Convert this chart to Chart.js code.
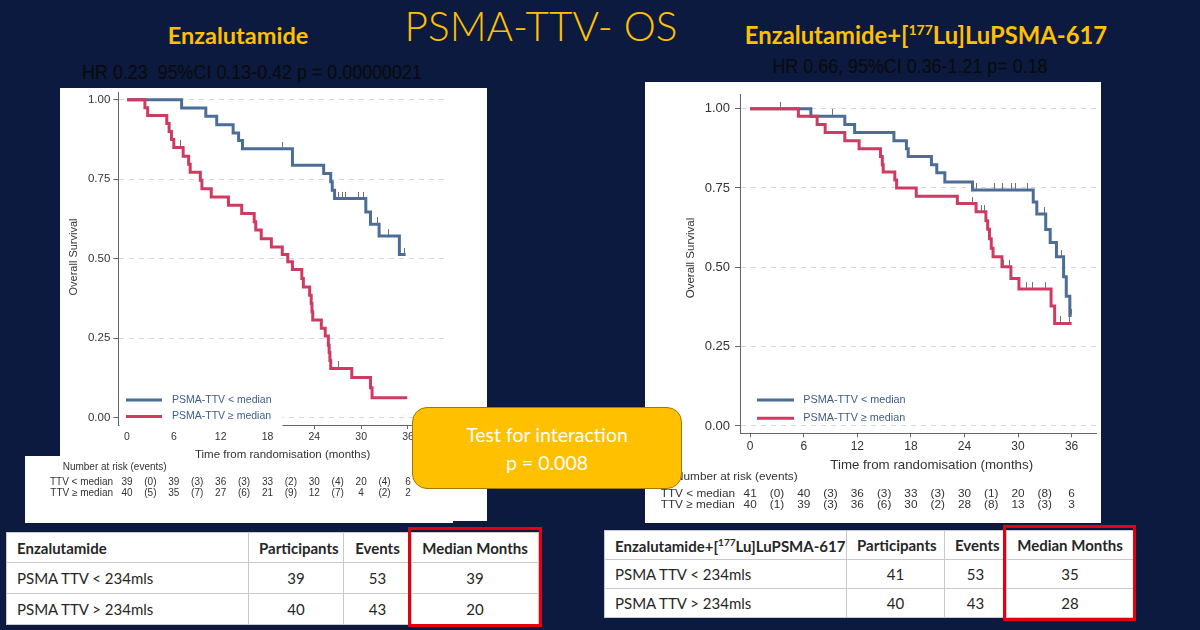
<!DOCTYPE html>
<html><head><meta charset="utf-8">
<script src="https://cdn.jsdelivr.net/npm/chart.js@4"></script>
<style>
body{margin:0;width:1200px;height:630px;background:#0b1a3e;position:relative;overflow:hidden;font-family:Lato,sans-serif}
.panel{position:absolute;background:#fff}
.ttl{position:absolute;color:#ffc000;white-space:nowrap;transform:translate(-50%,-50%)}
.hr{position:absolute;color:#0a0a0a;font-family:"Liberation Sans",Arial,sans-serif;font-size:20px;white-space:pre;transform:translate(-50%,-50%) scaleX(0.895)}
canvas{position:absolute}
table{position:absolute;border-collapse:collapse;background:#fff;font-family:Lato,sans-serif;font-size:15px;color:#262626;table-layout:fixed}
td{border:1px solid #c9c9c9;padding:0 10px;white-space:nowrap;overflow:hidden}
td.n{text-align:center}
tr.h td{font-weight:bold}
.redbox{position:absolute;border:3px solid #e3000f;box-sizing:border-box}
#inter{position:absolute;left:412px;top:407px;width:270px;height:82px;box-sizing:border-box;background:#ffc000;border:1px solid #a07800;border-radius:15px;color:#fff;font-family:Lato,sans-serif;font-size:19.5px;text-align:center;line-height:28px;padding-top:13px}
</style></head><body>

<div class="panel" style="left:60px;top:88px;width:427px;height:433px"></div>
<div class="panel" style="left:25px;top:456px;width:428px;height:67px"></div>
<div class="panel" style="left:645px;top:82px;width:456px;height:441px"></div>

<div class="ttl" style="left:541px;top:25px;font-size:40.5px;font-weight:300">PSMA-TTV- OS</div>
<div class="ttl" style="left:238px;top:35px;font-size:23.5px;font-weight:bold">Enzalutamide</div>
<div class="ttl" style="left:926px;top:35px;font-size:23.8px;font-weight:bold">Enzalutamide+[<sup style="font-size:14px">177</sup>Lu]LuPSMA-617</div>
<div class="hr" style="left:252px;top:72px">HR 0.23  95%CI 0.13-0.42 p = 0.00000021</div>
<div class="hr" style="left:910px;top:66px">HR 0.66, 95%CI 0.36-1.21 p= 0.18</div>

<canvas id="c1" width="490" height="445" style="left:0;top:80px"></canvas>
<canvas id="c2" width="456" height="441" style="left:645px;top:82px"></canvas>

<div id="inter">Test for interaction<br>p = 0.008</div>

<div id="tables"></div>

<script>
// ---------- axis ticks ----------
const monthTicks = [0, 6, 12, 18, 24, 30, 36];
const survTicks = [0, 0.25, 0.5, 0.75, 1];
const riskTimes = [0, 6, 12, 18, 24, 30, 36];
const eventTimes = [3, 9, 15, 21, 27, 33];
const seriesLabels = ['PSMA-TTV < median', 'PSMA-TTV \u2265 median'];
const riskRowLabels = ['TTV < median', 'TTV \u2265 median'];

// ---------- Enzalutamide arm ----------
const enzLowT = [0, 7.0, 10.1, 11.5, 13.6, 14.3, 14.8, 21.2, 25.2, 26.1, 26.3, 26.6, 30.6, 31.2, 32.3, 34.9, 35.7];
const enzLowS = [1, 0.974, 0.948, 0.921, 0.895, 0.872, 0.846, 0.794, 0.768, 0.742, 0.715, 0.689, 0.647, 0.608, 0.571, 0.513, 0.513];
const enzLowCensor = [19.9, 27.1, 27.6, 28.05, 29.6, 30.3, 32.1, 33.5, 35.6];
const enzHighT = [0, 2.3, 2.65, 5.1, 5.4, 5.7, 6.0, 7.2, 7.9, 8.1, 9.4, 9.6, 10.8, 13.0, 14.7, 16.3, 16.5, 17.2, 18.5, 19.9, 20.6, 21.2, 22.4, 22.6, 23.4, 23.6, 23.7, 23.8, 24.9, 25.4, 25.8, 25.9, 26.0, 26.1, 28.8, 31.2, 31.4, 35.9];
const enzHighS = [1, 0.975, 0.95, 0.925, 0.9, 0.875, 0.85, 0.822, 0.797, 0.772, 0.747, 0.72, 0.694, 0.668, 0.642, 0.616, 0.59, 0.563, 0.537, 0.513, 0.49, 0.466, 0.438, 0.411, 0.385, 0.359, 0.333, 0.307, 0.281, 0.257, 0.228, 0.205, 0.18, 0.155, 0.126, 0.094, 0.063, 0.063];
const enzHighCensor = [6.8, 27.1];
const enzLowRisk = [39, 39, 36, 33, 30, 20, 6];
const enzLowEvents = [0, 3, 3, 2, 4, 4];
const enzHighRisk = [40, 35, 27, 21, 12, 4, 2];
const enzHighEvents = [5, 7, 6, 9, 7, 2];

// ---------- Enzalutamide + Lu-PSMA arm ----------
const luLowT = [0, 6.8, 10.6, 11.7, 16.1, 17.5, 17.7, 20.3, 20.9, 21.8, 24.9, 31.7, 32.1, 33.1, 33.6, 34.3, 35.1, 35.4, 35.8, 36.0];
const luLowS = [1, 0.976, 0.95, 0.925, 0.899, 0.874, 0.849, 0.823, 0.798, 0.769, 0.744, 0.706, 0.668, 0.619, 0.578, 0.533, 0.47, 0.409, 0.348, 0.348];
const luLowCensor = [9.2, 25.4, 27.4, 28.3, 29.3, 29.7, 31.1, 33.0, 34.9, 35.95];
const luHighT = [0, 5.4, 7.5, 8.4, 10.6, 12.2, 14.6, 14.8, 14.9, 16.2, 16.4, 18.6, 23.2, 25.3, 26.4, 26.6, 26.8, 27.0, 27.2, 28.2, 29.2, 30.1, 33.7, 34.1, 36.0];
const luHighS = [1, 0.976, 0.95, 0.925, 0.899, 0.874, 0.849, 0.823, 0.8, 0.775, 0.75, 0.724, 0.701, 0.675, 0.647, 0.62, 0.59, 0.56, 0.533, 0.502, 0.465, 0.432, 0.378, 0.323, 0.323];
const luHighCensor = [3.4, 24.9, 25.9, 26.2, 28.4, 29.0, 31.0, 31.6, 33.1, 34.8, 35.8];
const luLowRisk = [41, 40, 36, 33, 30, 20, 6];
const luLowEvents = [0, 3, 3, 3, 1, 8];
const luHighRisk = [40, 39, 36, 30, 28, 13, 3];
const luHighEvents = [1, 3, 6, 2, 8, 3];

// ---------- summary tables ----------
const tableHead = ['Participants', 'Events', 'Median Months'];
const tableRowLabels = ['PSMA TTV < 234mls', 'PSMA TTV > 234mls'];
const enzParticipants = [39, 40], enzEvents = [53, 43], enzMedian = [39, 20];
const luParticipants = [41, 40], luEvents = [53, 43], luMedian = [35, 28];

const BLUE = '#4c6d96', RED = '#d03a60';
const FONT = 'Liberation Sans, Arial, sans-serif';

function toXY(T, S) { return T.map((t, i) => ({x: t, y: S[i]})); }
function censorXY(C, T, S) {
  return C.map(c => { let k = 0; for (let i = 0; i < T.length; i++) if (T[i] <= c) k = i; return {x: c, y: S[k]}; });
}
const tick = document.createElement('canvas');
tick.width = 1; tick.height = 14;
(function(){ const g = tick.getContext('2d'); g.fillStyle = '#707070'; g.fillRect(0, 0, 1, 6); })();

function kmPlugin(c) {
  return {
    id: 'km' + c.id,
    afterDraw(chart) {
      const {ctx, scales: {x}} = chart;
      ctx.save();
      if (c.mask) { ctx.fillStyle = '#fff'; ctx.fillRect(c.mask[0], c.mask[1], c.mask[2], c.mask[3]); }
      [BLUE, RED].forEach((col, i) => {
        ctx.strokeStyle = col; ctx.lineWidth = 3;
        ctx.beginPath(); ctx.moveTo(c.legX0, c.legY[i]); ctx.lineTo(c.legX1, c.legY[i]); ctx.stroke();
        ctx.fillStyle = '#3e5b8a'; ctx.font = c.legFont + 'px ' + FONT;
        ctx.textAlign = 'left'; ctx.textBaseline = 'middle';
        ctx.fillText(seriesLabels[i], c.legTX, c.legY[i]);
      });
      ctx.fillStyle = '#333';
      ctx.font = c.titleFont + 'px ' + FONT; ctx.textAlign = 'center';
      ctx.fillText('Time from randomisation (months)', c.xTitleX, c.xTitleY);
      ctx.save(); ctx.translate(c.yTitleX, c.yTitleY); ctx.rotate(-Math.PI / 2);
      ctx.font = c.yTitleFont + 'px ' + FONT;
      ctx.fillText('Overall Survival', 0, 0); ctx.restore();
      ctx.font = c.riskFont + 'px ' + FONT;
      ctx.textAlign = 'left';
      ctx.fillText('Number at risk (events)', c.nrX, c.nrY);
      [[c.lowRisk, c.lowEvents], [c.highRisk, c.highEvents]].forEach((r, i) => {
        const yy = c.rowY[i];
        ctx.textAlign = c.rowAlign;
        ctx.fillText(riskRowLabels[i], c.rowX, yy);
        ctx.textAlign = 'center';
        r[0].forEach((v, k) => ctx.fillText(String(v), x.getPixelForValue(riskTimes[k]), yy));
        r[1].forEach((v, k) => ctx.fillText('(' + v + ')', x.getPixelForValue(eventTimes[k]), yy));
      });
      ctx.restore();
    }
  };
}

function makeChart(id, c) {
  new Chart(document.getElementById(id), {
    type: 'line',
    data: {datasets: [
      {data: censorXY(c.lowCensor, c.lowT, c.lowS), showLine: false, pointStyle: tick, pointRadius: 3, order: 0},
      {data: censorXY(c.highCensor, c.highT, c.highS), showLine: false, pointStyle: tick, pointRadius: 3, order: 0},
      {data: toXY(c.highT, c.highS), borderColor: RED, borderWidth: 3, stepped: 'before', pointRadius: 0, fill: false, order: 1},
      {data: toXY(c.lowT, c.lowS), borderColor: BLUE, borderWidth: 3, stepped: 'before', pointRadius: 0, fill: false, order: 2}
    ]},
    options: {
      responsive: false, animation: false, events: [],
      layout: {padding: c.padding},
      plugins: {legend: {display: false}, tooltip: {enabled: false}},
      scales: {
        x: {type: 'linear', min: c.xMin, max: c.xMax,
            afterBuildTicks: s => { s.ticks = monthTicks.map(v => ({value: v})); },
            afterFit: s => { s.height = c.xAxisH; },
            grid: {drawOnChartArea: false, drawTicks: true, tickLength: 4, tickColor: '#666'},
            border: {display: true, color: '#666', width: 1},
            ticks: {font: {family: FONT, size: c.xTickFont}, color: '#333', padding: 2, autoSkip: false, maxRotation: 0}},
        y: {type: 'linear', min: c.yMin, max: c.yMax,
            afterBuildTicks: s => { s.ticks = survTicks.map(v => ({value: v})); },
            afterFit: s => { s.width = c.yAxisW; },
            grid: {color: '#d6d6d6', lineWidth: 1, drawTicks: true, tickLength: 5, tickColor: '#666'},
            border: {display: true, color: '#666', width: 1, dash: [5, 5]},
            ticks: {font: {family: FONT, size: c.yTickFont}, color: '#333', padding: c.yTickPad, callback: v => Number(v).toFixed(2)}}
      }
    },
    plugins: [kmPlugin(c)]
  });
}

makeChart('c1', {
  id: 1, lowT: enzLowT, lowS: enzLowS, lowCensor: enzLowCensor, highT: enzHighT, highS: enzHighS, highCensor: enzHighCensor,
  lowRisk: enzLowRisk, lowEvents: enzLowEvents, highRisk: enzHighRisk, highEvents: enzHighEvents,
  padding: {left: 0, right: 43, top: 12.7, bottom: 0}, xAxisH: 100, yAxisW: 118.3,
  xMin: -1.11, xMax: 41.0, yMin: -0.023, yMax: 1.022,
  xTickFont: 10.5, yTickFont: 11.5, yTickPad: 3,
  mask: [119.5, 305, 163, 45],
  legX0: 126, legX1: 162, legY: [320, 336.5], legTX: 172, legFont: 10.5,
  titleFont: 11.5, xTitleX: 282.6, xTitleY: 375,
  yTitleFont: 11, yTitleX: 74, yTitleY: 177,
  riskFont: 10, nrX: 62.7, nrY: 387, rowX: 113, rowAlign: 'right', rowY: [402.5, 413.5]
});

makeChart('c2', {
  id: 2, lowT: luLowT, lowS: luLowS, lowCensor: luLowCensor, highT: luHighT, highS: luHighS, highCensor: luHighCensor,
  lowRisk: luLowRisk, lowEvents: luLowEvents, highRisk: luHighRisk, highEvents: luHighEvents,
  padding: {left: 0, right: 0, top: 2, bottom: 0}, xAxisH: 89.7, yAxisW: 95,
  xMin: -1.137, xMax: 38.73, yMin: -0.0232, yMax: 1.0437,
  xTickFont: 12, yTickFont: 13, yTickPad: 5,
  mask: null,
  legX0: 112, legX1: 149, legY: [318, 336.3], legTX: 158.3, legFont: 10.8,
  titleFont: 13.3, xTitleX: 286.7, xTitleY: 383.5,
  yTitleFont: 11.5, yTitleX: 45.5, yTitleY: 176,
  riskFont: 11.8, nrX: 30, nrY: 395, rowX: 15.7, rowAlign: 'left', rowY: [411.5, 423]
});

// ---------- tables ----------
function buildTable(left, top, widths, heights, firstHead, part, ev, med) {
  let h = '<table style="left:' + left + 'px;top:' + top + 'px;width:' + widths.reduce((a, b) => a + b, 0) + 'px"><colgroup>' +
    widths.map(w => '<col style="width:' + w + 'px">').join('') + '</colgroup>';
  h += '<tr class="h" style="height:' + heights[0] + 'px"><td>' + firstHead + '</td>' + tableHead.map(t => '<td class="n">' + t + '</td>').join('') + '</tr>';
  tableRowLabels.forEach((lab, i) => {
    h += '<tr style="height:' + heights[i + 1] + 'px"><td>' + lab + '</td><td class="n">' + part[i] + '</td><td class="n">' + ev[i] + '</td><td class="n">' + med[i] + '</td></tr>';
  });
  return h + '</table>';
}
document.getElementById('tables').innerHTML =
  buildTable(6, 532, [242, 95, 68, 127], [30, 31, 31], 'Enzalutamide', enzParticipants, enzEvents, enzMedian) +
  buildTable(604, 530, [242, 98, 62, 127], [29, 29, 29], 'Enzalutamide+[<sup style="font-size:10px">177</sup>Lu]LuPSMA-617', luParticipants, luEvents, luMedian) +
  '<div class="redbox" style="left:408px;top:527px;width:134px;height:100px"></div>' +
  '<div class="redbox" style="left:1003px;top:525px;width:133px;height:96px"></div>';
</script>
</body></html>
